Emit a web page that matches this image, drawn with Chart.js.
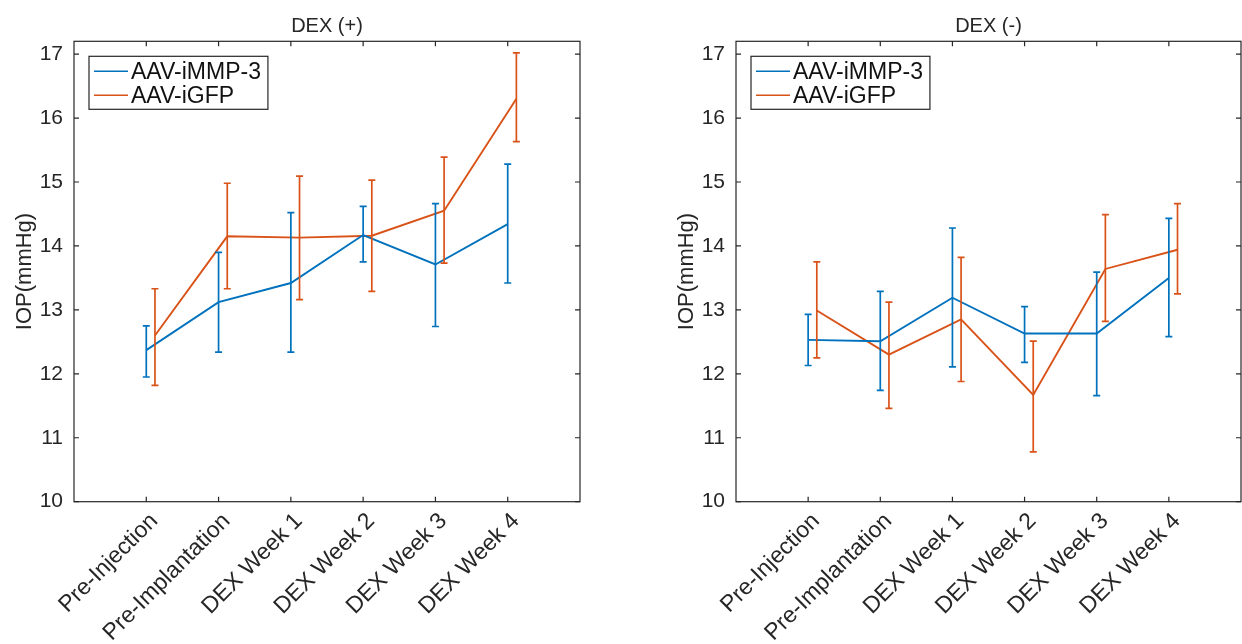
<!DOCTYPE html>
<html>
<head>
<meta charset="utf-8">
<title>IOP – DEX (+) / DEX (-)</title>
<script src="https://cdn.jsdelivr.net/npm/chart.js@4.4.1/dist/chart.umd.min.js"></script>
<style>
  html, body { margin: 0; padding: 0; background: #fff; overflow: hidden; }
  .panel { position: absolute; top: 0; }
  #panelPos { left: 0; }
  #panelNeg { left: 662px; }
</style>
</head>
<body>
<div class="panel" id="panelPos"><canvas id="chartPos" width="620" height="644"></canvas></div>
<div class="panel" id="panelNeg"><canvas id="chartNeg" width="620" height="644"></canvas></div>

<script>
// ===== data =====
const CATEGORIES = ['Pre-Injection', 'Pre-Implantation', 'DEX Week 1', 'DEX Week 2', 'DEX Week 3', 'DEX Week 4'];
const Y_TICKS = [10, 11, 12, 13, 14, 15, 16, 17];

// DEX (+)
const POS_MMP3_MEAN = [12.37, 13.12, 13.42, 14.17, 13.71, 14.34];
const POS_MMP3_HIGH = [12.75, 13.90, 14.52, 14.62, 14.66, 15.28];
const POS_MMP3_LOW  = [11.95, 12.34, 12.34, 13.75, 12.74, 13.42];
const POS_GFP_MEAN  = [12.60, 14.15, 14.13, 14.16, 14.55, 16.30];
const POS_GFP_HIGH  = [13.33, 14.98, 15.09, 15.03, 15.39, 17.02];
const POS_GFP_LOW   = [11.82, 13.33, 13.16, 13.29, 13.73, 15.63];

// DEX (-)
const NEG_MMP3_MEAN = [12.53, 12.51, 13.19, 12.63, 12.63, 13.50];
const NEG_MMP3_HIGH = [12.93, 13.29, 14.28, 13.05, 13.59, 14.43];
const NEG_MMP3_LOW  = [12.13, 11.74, 12.11, 12.18, 11.66, 12.58];
const NEG_GFP_MEAN  = [12.99, 12.30, 12.85, 11.67, 13.64, 13.94];
const NEG_GFP_HIGH  = [13.75, 13.12, 13.82, 12.51, 14.49, 14.66];
const NEG_GFP_LOW   = [12.25, 11.46, 11.88, 10.78, 12.82, 13.25];

const BLUE = '#0072BD';
const ORANGE = '#D95319';
const AXIS = '#262626';
const FONT = '"Liberation Sans", Arial, Helvetica, sans-serif';
const GFP_SHIFT = 0.12;   // second group is nudged right so the bars don't overlap

// ── error bars (vertical line + caps) ──
const errorBars = {
  id: 'errorBars',
  afterDatasetsDraw(chart) {
    const { ctx, scales: { x, y } } = chart;
    ctx.save();
    chart.data.datasets.forEach(ds => {
      ctx.strokeStyle = ds.borderColor;
      ctx.lineWidth = 1.7;
      ds.data.forEach((p, j) => {
        const px = x.getPixelForValue(p.x);
        const top = y.getPixelForValue(ds.errHigh[j]);
        const bot = y.getPixelForValue(ds.errLow[j]);
        ctx.beginPath();
        ctx.moveTo(px, top); ctx.lineTo(px, bot);
        ctx.moveTo(px - 3.5, top); ctx.lineTo(px + 3.5, top);
        ctx.moveTo(px - 3.5, bot); ctx.lineTo(px + 3.5, bot);
        ctx.stroke();
      });
    });
    ctx.restore();
  }
};

// ── boxed axes with inward ticks on all four sides ──
const axesBox = {
  id: 'axesBox',
  afterDraw(chart) {
    const { ctx, chartArea: a, scales: { x, y } } = chart;
    const len = 5;
    ctx.save();
    ctx.strokeStyle = AXIS;
    ctx.lineWidth = 1.2;
    ctx.strokeRect(a.left, a.top, a.right - a.left, a.bottom - a.top);
    ctx.beginPath();
    x.ticks.forEach(t => {
      const px = x.getPixelForValue(t.value);
      ctx.moveTo(px, a.bottom); ctx.lineTo(px, a.bottom - len);
      ctx.moveTo(px, a.top); ctx.lineTo(px, a.top + len);
    });
    y.ticks.forEach(t => {
      const py = y.getPixelForValue(t.value);
      ctx.moveTo(a.left, py); ctx.lineTo(a.left + len, py);
      ctx.moveTo(a.right, py); ctx.lineTo(a.right - len, py);
    });
    ctx.stroke();
    ctx.restore();
  }
};

// ── framed legend in the upper-left corner of the plot ──
const boxLegend = {
  id: 'boxLegend',
  afterDraw(chart) {
    const { ctx, chartArea: a } = chart;
    const items = chart.data.datasets;
    const rowH = 24, lineLen = 34;
    ctx.save();
    ctx.font = '23px ' + FONT;
    const textW = Math.max(...items.map(d => ctx.measureText(d.label).width));
    const bx = a.left + 15, by = a.top + 15;
    const bw = 5 + lineLen + 4 + textW + 6;
    const bh = items.length * rowH + 5;
    ctx.fillStyle = '#fff';
    ctx.fillRect(bx, by, bw, bh);
    ctx.strokeStyle = AXIS;
    ctx.lineWidth = 1.2;
    ctx.strokeRect(bx, by, bw, bh);
    ctx.textBaseline = 'middle';
    items.forEach((d, i) => {
      const ly = by + 15 + i * rowH;
      ctx.strokeStyle = d.borderColor;
      ctx.lineWidth = 1.6;
      ctx.beginPath();
      ctx.moveTo(bx + 5, ly); ctx.lineTo(bx + 5 + lineLen, ly);
      ctx.stroke();
      ctx.fillStyle = '#111';
      ctx.fillText(d.label, bx + 5 + lineLen + 3, ly + 1);
    });
    ctx.restore();
  }
};

function series(means, shift) {
  return means.map((v, i) => ({ x: i + 1 + shift, y: v }));
}

function makePanel(canvasId, title, mmp3, gfp, padRight) {
  new Chart(document.getElementById(canvasId).getContext('2d'), {
    type: 'line',
    data: {
      datasets: [
        {
          label: 'AAV-iMMP-3',
          data: series(mmp3.mean, 0),
          errHigh: mmp3.high, errLow: mmp3.low,
          borderColor: BLUE, borderWidth: 1.9, pointRadius: 0, tension: 0,
        },
        {
          label: 'AAV-iGFP',
          data: series(gfp.mean, GFP_SHIFT),
          errHigh: gfp.high, errLow: gfp.low,
          borderColor: ORANGE, borderWidth: 1.9, pointRadius: 0, tension: 0,
        }
      ]
    },
    options: {
      responsive: false,
      animation: false,
      events: [],
      layout: { padding: { top: 14, left: 0, right: padRight, bottom: 0 } },
      plugins: {
        legend: { display: false },
        tooltip: { enabled: false },
        title: {
          display: true, text: title, fullSize: false, color: AXIS,
          font: { family: FONT, size: 20, weight: 'normal', lineHeight: 1.2 },
          padding: { top: 0, bottom: 3.3 },
        },
      },
      scales: {
        x: {
          type: 'linear', min: 0, max: 7,
          grid: { display: false, drawTicks: false }, border: { display: false },
          afterBuildTicks: s => { s.ticks = CATEGORIES.map((c, i) => ({ value: i + 1 })); },
          afterFit: s => { s.height = 142.3; },
          ticks: {
            autoSkip: false, minRotation: 45, maxRotation: 45, padding: 6, labelOffset: 8,
            color: AXIS, font: { family: FONT, size: 23 },
            callback: v => CATEGORIES[v - 1],
          },
        },
        y: {
          min: 10, max: 17.2,
          grid: { display: false, drawTicks: false }, border: { display: false },
          afterBuildTicks: s => { s.ticks = Y_TICKS.map(v => ({ value: v })); },
          afterFit: s => { s.width = 74; },
          ticks: { padding: 11, color: AXIS, font: { family: FONT, size: 21 } },
          title: {
            display: true, text: 'IOP(mmHg)', color: AXIS,
            font: { family: FONT, size: 22 }, padding: { top: 12, bottom: 0 },
          },
        },
      },
    },
    plugins: [errorBars, axesBox, boxLegend],
  });
}

makePanel('chartPos', 'DEX (+)',
  { mean: POS_MMP3_MEAN, high: POS_MMP3_HIGH, low: POS_MMP3_LOW },
  { mean: POS_GFP_MEAN, high: POS_GFP_HIGH, low: POS_GFP_LOW }, 40);

makePanel('chartNeg', 'DEX (-)',
  { mean: NEG_MMP3_MEAN, high: NEG_MMP3_HIGH, low: NEG_MMP3_LOW },
  { mean: NEG_GFP_MEAN, high: NEG_GFP_HIGH, low: NEG_GFP_LOW }, 41);
</script>
</body>
</html>
